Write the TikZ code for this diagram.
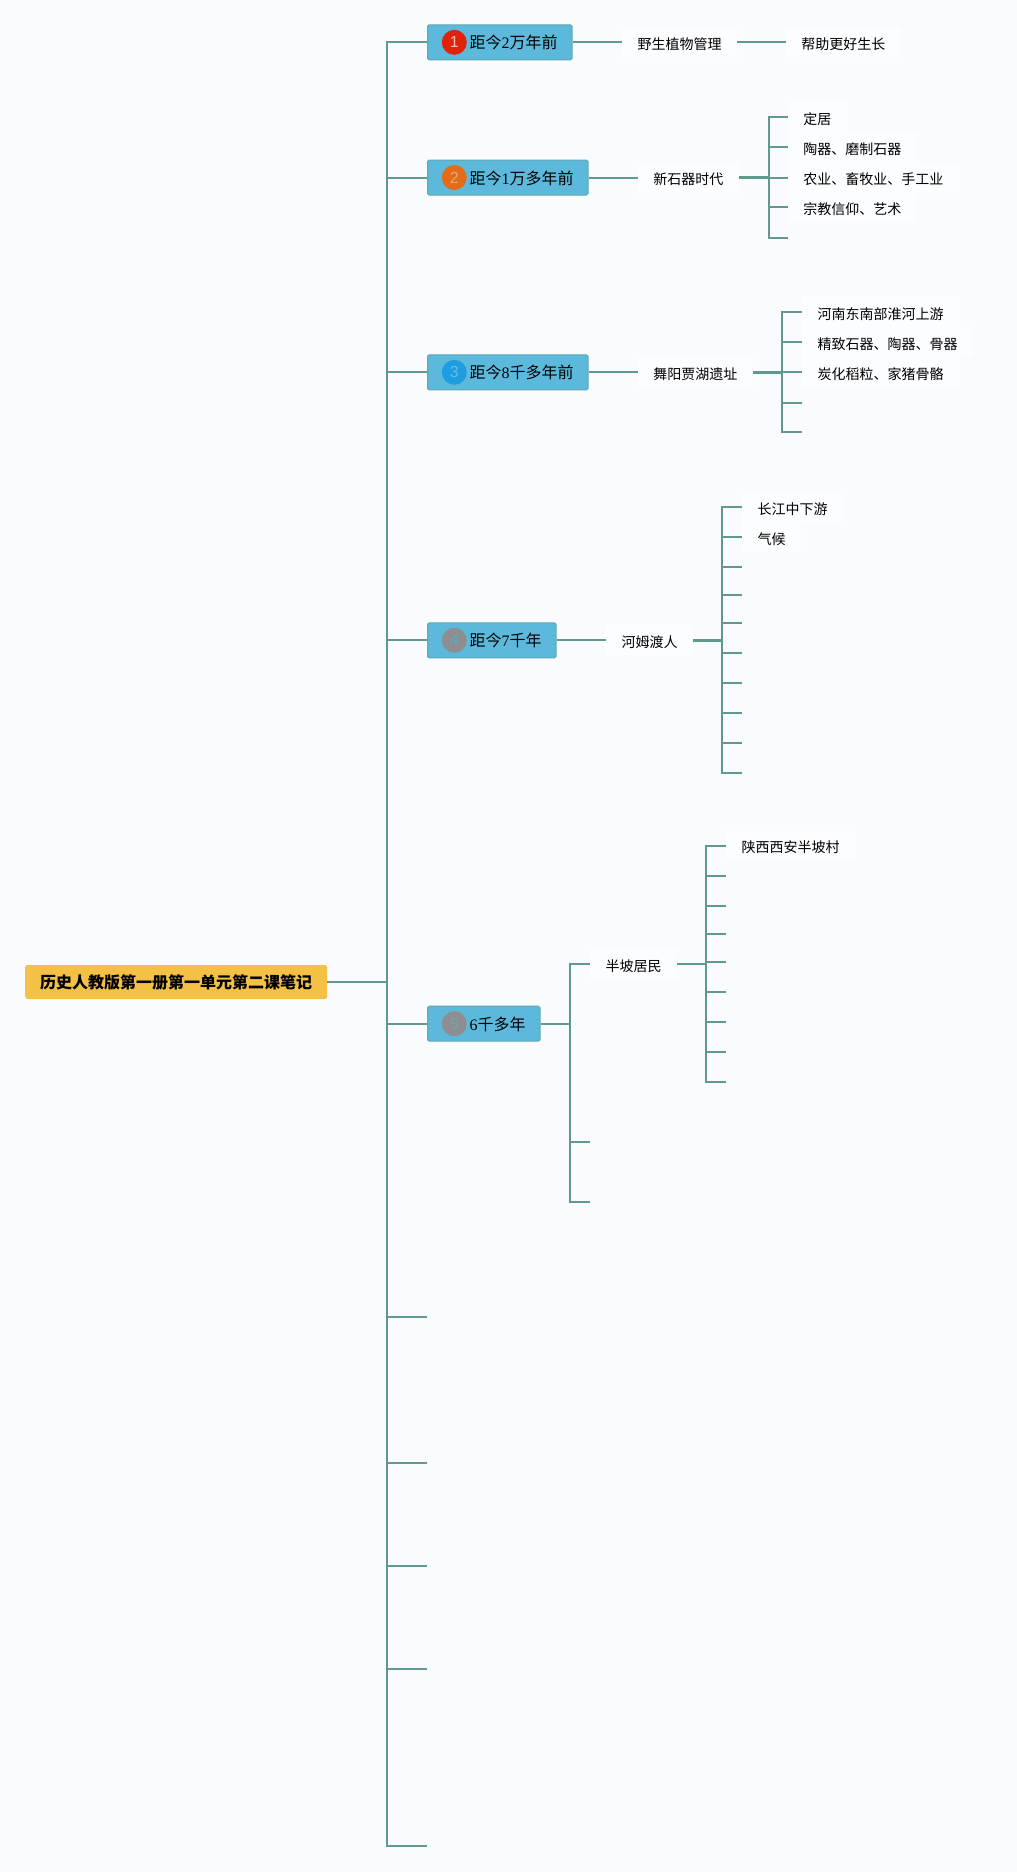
\documentclass[tikz,border=0pt]{standalone}
\usepackage{fontspec}
\setmainfont{Noto Sans CJK SC}
\newfontfamily\dg{Liberation Serif}
\newfontfamily\cn{Liberation Sans}
\definecolor{bgc}{HTML}{F9FBFF}
\definecolor{patchc}{HTML}{FCFDFF}
\definecolor{linec}{HTML}{5F9A8C}
\definecolor{boxc}{HTML}{5DB9DC}
\definecolor{boxe}{HTML}{5FA9B0}
\definecolor{rootc}{HTML}{F5C144}
\definecolor{badgea}{HTML}{E0220A}
\definecolor{badgeb}{HTML}{E46C16}
\definecolor{badgec}{HTML}{1E9EE0}
\definecolor{badged}{HTML}{8E8E8E}
\definecolor{digita}{HTML}{F5BEB4}
\definecolor{digitb}{HTML}{DCAA82}
\definecolor{digitc}{HTML}{64BEE6}
\definecolor{digitd}{HTML}{4FB0D0}
\definecolor{digite}{HTML}{6FA4BC}
\tikzset{
  x=1pt,y=-1pt,
  conn/.style={draw=linec,line width=2pt,line cap=butt},
  stub/.style={draw=linec,line width=3.4pt},
  rootbox/.style={anchor=west,fill=rootc,rounded corners=2.5pt,minimum width=302pt,minimum height=34pt,inner sep=0pt,font=\fontsize{16}{16}\selectfont\bfseries,text height=14pt,text depth=1pt},
  topicbox/.style={anchor=west,fill=boxc,draw=boxe,line width=1pt,rounded corners=1.5pt,minimum height=35pt,inner ysep=0pt,inner xsep=14.5pt,font=\fontsize{16}{16}\selectfont,text height=14pt,text depth=1pt},
  badge/.style={circle,minimum size=25pt,inner sep=0pt,font=\cn\fontsize{16}{16}\selectfont},
  badgetext/.style={font=\cn\fontsize{16}{16}\selectfont,inner sep=0pt},
  leaf/.style={anchor=west,fill=patchc,inner xsep=15.5pt,inner ysep=0pt,minimum height=30pt,font=\fontsize{14}{14}\selectfont,text height=14.6pt,text depth=0.6pt},
  tip/.style={inner sep=0pt,minimum size=0pt,outer sep=0pt,anchor=center},
}
\begin{document}
\begin{tikzpicture}
\fill[bgc] (0,0) rectangle (1017,1872);
\useasboundingbox (0,0) rectangle (1017,1872);

% root and spines
\node[rootbox] (root) at (25,982) {历史人教版第一册第一单元第二课笔记};
\coordinate (trunk) at (387,982);
\coordinate (s2) at (768.5,177.5);
\coordinate (s3) at (782.4,372.3);
\coordinate (s4) at (722,640.3);
\coordinate (s5) at (570,1023.7);
\coordinate (s6) at (705.7,964);

% topics
\node[topicbox] (b1) at (427,42.3) {\hspace*{27.5pt}距今{\dg 2}万年前};
\node[topicbox] (b2) at (427,177.5) {\hspace*{27.5pt}距今{\dg 1}万多年前};
\node[topicbox] (b3) at (427,372.3) {\hspace*{27.5pt}距今{\dg 8}千多年前};
\node[topicbox] (b4) at (427,640.3) {\hspace*{27.5pt}距今{\dg 7}千年};
\node[topicbox] (b5) at (427,1023.7) {\hspace*{27.5pt}{\dg 6}千多年};
\node[badge,fill=badgea,text=digita] (c1) at (454.3,42.3) {1};
\node[badge,fill=badgeb,text=digitb] (c2) at (454.3,177.5) {2};
\node[badge,fill=badgec,text=digitc] (c3) at (454.3,372.3) {3};
\node[badge,fill=badged] (c4) at (454.3,640.3) {\textcolor{digitd}{4}};
\node[badge,fill=badged] (c5) at (454.3,1023.7) {\textcolor{digite}{5}};

% empty trunk ends
\node[tip] (e6) at (427,1317) {};
\node[tip] (e7) at (427,1463) {};
\node[tip] (e8) at (427,1566.3) {};
\node[tip] (e9) at (427,1668.8) {};
\node[tip] (e10) at (427,1846) {};

% second level
\node[leaf] (n1) at (622,42.3) {野生植物管理};
\node[leaf] (n2) at (637.7,177.5) {新石器时代};
\node[leaf] (n3) at (637.7,372.3) {舞阳贾湖遗址};
\node[leaf] (n4) at (606,640.3) {河姆渡人};
\node[leaf] (n5) at (590,964) {半坡居民};
\node[tip] (n5b) at (590,1142) {};
\node[tip] (n5c) at (590,1201.7) {};

% third level
\node[leaf] (l1) at (785.7,42.3) {帮助更好生长};

\node[leaf] (l21) at (787.7,117) {定居};
\node[leaf] (l22) at (787.7,147) {陶器、磨制石器};
\node[leaf] (l23) at (787.7,177.5) {农业、畜牧业、手工业};
\node[leaf] (l24) at (787.7,207) {宗教信仰、艺术};
\node[tip] (l25) at (787.7,237.6) {};

\node[leaf] (l31) at (802,312.3) {河南东南部淮河上游};
\node[leaf] (l32) at (802,342.3) {精致石器、陶器、骨器};
\node[leaf] (l33) at (802,372.3) {炭化稻粒、家猪骨骼};
\node[tip] (l34) at (802,402.5) {};
\node[tip] (l35) at (802,432.3) {};

\node[leaf] (l41) at (742,507) {长江中下游};
\node[leaf] (l42) at (742,537.3) {气候};
\node[tip] (l43) at (742,567.3) {};
\node[tip] (l44) at (742,595.3) {};
\node[tip] (l45) at (742,623.3) {};
\node[tip] (l46) at (742,653.3) {};
\node[tip] (l47) at (742,683.3) {};
\node[tip] (l48) at (742,713.3) {};
\node[tip] (l49) at (742,743.3) {};
\node[tip] (l410) at (742,773.3) {};

\node[leaf] (l51) at (726,845.7) {陕西西安半坡村};
\node[tip] (l52) at (726,875.7) {};
\node[tip] (l53) at (726,906) {};
\node[tip] (l54) at (726,934) {};
\node[tip] (l55) at (726,962) {};
\node[tip] (l56) at (726,992) {};
\node[tip] (l57) at (726,1022) {};
\node[tip] (l58) at (726,1051.7) {};
\node[tip] (l59) at (726,1081.7) {};

% connectors: trunk
\draw[conn] (root.east) -- (trunk);
\draw[conn,line cap=rect] (trunk |- b1.west) -- (trunk |- e10);
\foreach \n in {b1,b2,b3,b4,b5,e6,e7,e8,e9,e10}
  \draw[conn] (\n.west) -- (\n.west -| trunk);

% connectors: first to second level
\foreach \a/\b in {b1/n1,b2/n2,b3/n3,b4/n4}
  \draw[conn] (\a.east) -- (\a.east -| \b.west);
\draw[conn] (n1.east) -- (l1.west);
\draw[conn] (b5.east) -- (s5);

% spine 2
\draw[stub] (n2.east) -- (s2);
\draw[conn,line cap=rect] (s2 |- l21) -- (s2 |- l25);
\foreach \n in {l21,l22,l23,l24,l25}
  \draw[conn] (\n.west) -- (\n.west -| s2);

% spine 3
\draw[stub] (n3.east) -- (s3);
\draw[conn,line cap=rect] (s3 |- l31) -- (s3 |- l35);
\foreach \n in {l31,l32,l33,l34,l35}
  \draw[conn] (\n.west) -- (\n.west -| s3);

% spine 4
\draw[stub] (n4.east) -- (s4);
\draw[conn,line cap=rect] (s4 |- l41) -- (s4 |- l410);
\foreach \n in {l41,l42,l43,l44,l45,l46,l47,l48,l49,l410}
  \draw[conn] (\n.west) -- (\n.west -| s4);

% spine 5
\draw[conn,line cap=rect] (s5 |- n5) -- (s5 |- n5c);
\foreach \n in {n5,n5b,n5c}
  \draw[conn] (\n.west) -- (\n.west -| s5);

% spine 6
\draw[conn] (n5.east) -- (s6);
\draw[conn,line cap=rect] (s6 |- l51) -- (s6 |- l59);
\foreach \n in {l51,l52,l53,l54,l55,l56,l57,l58,l59}
  \draw[conn] (\n.west) -- (\n.west -| s6);
\end{tikzpicture}
\end{document}
